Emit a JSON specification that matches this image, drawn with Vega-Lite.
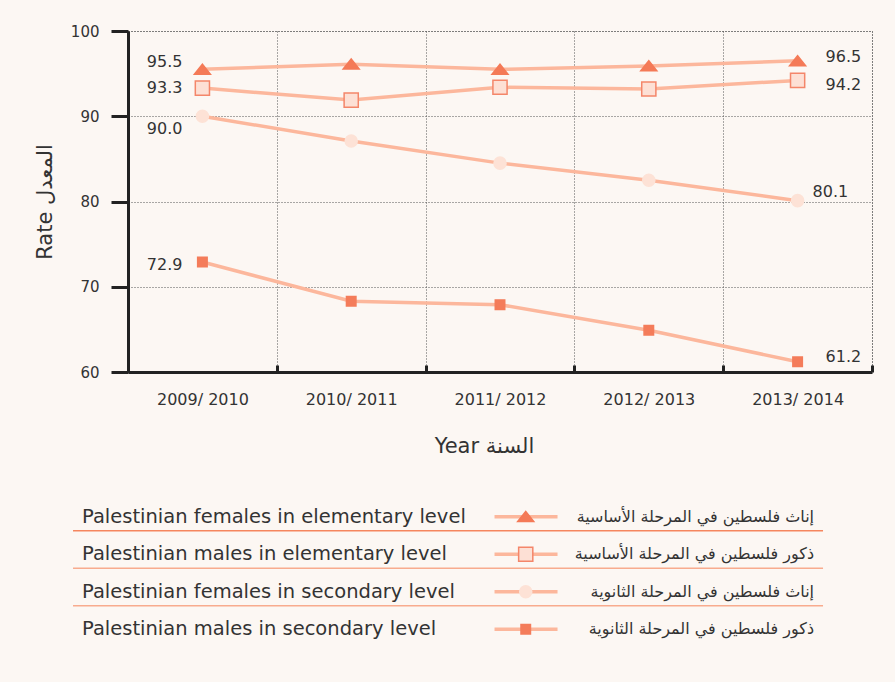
{
  "$schema": "https://vega.github.io/schema/vega-lite/v6.json",
  "background": "#fcf7f3",
  "padding": {"left": 33, "top": 23, "right": 21, "bottom": 44},
  "spacing": 41,
  "config": {
    "font": "DejaVu Sans",
    "view": {"stroke": "#555", "strokeDash": [1, 2], "strokeWidth": 1}
  },
  "datasets": {
    "rates": [
      {"year": "2009/ 2010", "series": "Palestinian females in elementary level", "value": 95.5},
      {"year": "2010/ 2011", "series": "Palestinian females in elementary level", "value": 96.1},
      {"year": "2011/ 2012", "series": "Palestinian females in elementary level", "value": 95.5},
      {"year": "2012/ 2013", "series": "Palestinian females in elementary level", "value": 95.9},
      {"year": "2013/ 2014", "series": "Palestinian females in elementary level", "value": 96.5},
      {"year": "2009/ 2010", "series": "Palestinian males in elementary level", "value": 93.3},
      {"year": "2010/ 2011", "series": "Palestinian males in elementary level", "value": 91.9},
      {"year": "2011/ 2012", "series": "Palestinian males in elementary level", "value": 93.4},
      {"year": "2012/ 2013", "series": "Palestinian males in elementary level", "value": 93.2},
      {"year": "2013/ 2014", "series": "Palestinian males in elementary level", "value": 94.2},
      {"year": "2009/ 2010", "series": "Palestinian females in secondary level", "value": 90.0},
      {"year": "2010/ 2011", "series": "Palestinian females in secondary level", "value": 87.1},
      {"year": "2011/ 2012", "series": "Palestinian females in secondary level", "value": 84.5},
      {"year": "2012/ 2013", "series": "Palestinian females in secondary level", "value": 82.5},
      {"year": "2013/ 2014", "series": "Palestinian females in secondary level", "value": 80.1},
      {"year": "2009/ 2010", "series": "Palestinian males in secondary level", "value": 72.9},
      {"year": "2010/ 2011", "series": "Palestinian males in secondary level", "value": 68.3},
      {"year": "2011/ 2012", "series": "Palestinian males in secondary level", "value": 67.9},
      {"year": "2012/ 2013", "series": "Palestinian males in secondary level", "value": 64.9},
      {"year": "2013/ 2014", "series": "Palestinian males in secondary level", "value": 61.2}
    ],
    "legendRows": [
      {"series": "Palestinian females in elementary level", "arabic": "إناث فلسطين في المرحلة الأساسية"},
      {"series": "Palestinian males in elementary level", "arabic": "ذكور فلسطين في المرحلة الأساسية"},
      {"series": "Palestinian females in secondary level", "arabic": "إناث فلسطين في المرحلة الثانوية"},
      {"series": "Palestinian males in secondary level", "arabic": "ذكور فلسطين في المرحلة الثانوية"}
    ]
  },
  "vconcat": [
    {
      "width": 744,
      "height": 341,
      "data": {"name": "rates"},
      "encoding": {
        "x": {
          "field": "year", "type": "nominal",
          "sort": ["2009/ 2010", "2010/ 2011", "2011/ 2012", "2012/ 2013", "2013/ 2014"],
          "scale": {"type": "band", "paddingInner": 0, "paddingOuter": 0},
          "axis": {
            "title": "Year السنة", "titleFontSize": 21, "titleFontWeight": "normal", "titleColor": "#333", "titlePadding": 28,
            "titleX": 356, "titleAlign": "center",
            "labelAngle": 0, "labelFontSize": 16, "labelColor": "#333", "labelPadding": 26,
            "tickBand": "extent", "tickSize": -7, "tickWidth": 3, "tickColor": "#222",
            "domainWidth": 3, "domainColor": "#222",
            "grid": true, "gridColor": "#555", "gridDash": [1, 2], "gridWidth": 1
          }
        },
        "y": {
          "field": "value", "type": "quantitative",
          "scale": {"domain": [60, 100], "nice": false, "zero": false},
          "axis": {
            "title": "Rate المعدل", "titleFontSize": 21, "titleFontWeight": "normal", "titleColor": "#333", "titlePadding": 15,
            "values": [60, 70, 80, 90, 100],
            "labelFontSize": 15, "labelColor": "#333", "labelPadding": 12,
            "tickSize": 17, "tickWidth": 3, "tickColor": "#222",
            "domainWidth": 3, "domainColor": "#222",
            "grid": true, "gridColor": "#555", "gridDash": [1, 2], "gridWidth": 1
          }
        }
      },
      "layer": [
        {
          "mark": {"type": "line", "color": "#fcb79c", "strokeWidth": 3.5},
          "encoding": {"detail": {"field": "series"}}
        },
        {
          "mark": {"type": "point", "filled": true, "opacity": 1, "strokeWidth": 1.5},
          "encoding": {
            "shape": {"field": "series", "legend": null, "scale": {
              "domain": ["Palestinian females in elementary level", "Palestinian males in elementary level", "Palestinian females in secondary level", "Palestinian males in secondary level"],
              "range": ["M-1,0.6L0,-0.65L1,0.6Z", "square", "circle", "square"]}},
            "fill": {"field": "series", "legend": null, "scale": {
              "domain": ["Palestinian females in elementary level", "Palestinian males in elementary level", "Palestinian females in secondary level", "Palestinian males in secondary level"],
              "range": ["#f47a57", "#fde0d5", "#fde2d6", "#f47c5a"]}},
            "stroke": {"field": "series", "legend": null, "scale": {
              "domain": ["Palestinian females in elementary level", "Palestinian males in elementary level", "Palestinian females in secondary level", "Palestinian males in secondary level"],
              "range": ["#f47a57", "#f4866a", "#fde2d6", "#f47c5a"]}},
            "size": {"field": "series", "legend": null, "scale": {
              "domain": ["Palestinian females in elementary level", "Palestinian males in elementary level", "Palestinian females in secondary level", "Palestinian males in secondary level"],
              "range": [256, 90, 120, 120]}}
          }
        },
        {
          "transform": [{"filter": "datum.series == 'Palestinian females in elementary level' && datum.year == '2009/ 2010'"}],
          "mark": {"type": "text", "align": "right", "baseline": "middle", "dx": -20, "dy": -7, "fontSize": 16, "color": "#333"},
          "encoding": {"text": {"field": "value", "format": ".1f"}}
        },
        {
          "transform": [{"filter": "datum.series == 'Palestinian males in elementary level' && datum.year == '2009/ 2010'"}],
          "mark": {"type": "text", "align": "right", "baseline": "middle", "dx": -20, "dy": 0, "fontSize": 16, "color": "#333"},
          "encoding": {"text": {"field": "value", "format": ".1f"}}
        },
        {
          "transform": [{"filter": "datum.series == 'Palestinian females in secondary level' && datum.year == '2009/ 2010'"}],
          "mark": {"type": "text", "align": "right", "baseline": "middle", "dx": -20, "dy": 13, "fontSize": 16, "color": "#333"},
          "encoding": {"text": {"field": "value", "format": ".1f"}}
        },
        {
          "transform": [{"filter": "datum.series == 'Palestinian males in secondary level' && datum.year == '2009/ 2010'"}],
          "mark": {"type": "text", "align": "right", "baseline": "middle", "dx": -20, "dy": 3, "fontSize": 16, "color": "#333"},
          "encoding": {"text": {"field": "value", "format": ".1f"}}
        },
        {
          "transform": [{"filter": "datum.series == 'Palestinian females in elementary level' && datum.year == '2013/ 2014'"}],
          "mark": {"type": "text", "align": "left", "baseline": "middle", "dx": 28, "dy": -4, "fontSize": 16, "color": "#333"},
          "encoding": {"text": {"field": "value", "format": ".1f"}}
        },
        {
          "transform": [{"filter": "datum.series == 'Palestinian males in elementary level' && datum.year == '2013/ 2014'"}],
          "mark": {"type": "text", "align": "left", "baseline": "middle", "dx": 28, "dy": 5, "fontSize": 16, "color": "#333"},
          "encoding": {"text": {"field": "value", "format": ".1f"}}
        },
        {
          "transform": [{"filter": "datum.series == 'Palestinian females in secondary level' && datum.year == '2013/ 2014'"}],
          "mark": {"type": "text", "align": "left", "baseline": "middle", "dx": 15, "dy": -9, "fontSize": 16, "color": "#333"},
          "encoding": {"text": {"field": "value", "format": ".1f"}}
        },
        {
          "transform": [{"filter": "datum.series == 'Palestinian males in secondary level' && datum.year == '2013/ 2014'"}],
          "mark": {"type": "text", "align": "left", "baseline": "middle", "dx": 28, "dy": -5, "fontSize": 16, "color": "#333"},
          "encoding": {"text": {"field": "value", "format": ".1f"}}
        }
      ]
    },
    {
      "width": 744,
      "height": 150,
      "view": {"stroke": null},
      "data": {"name": "legendRows"},
      "encoding": {
        "y": {
          "field": "series", "type": "nominal", "axis": null, "sort": null,
          "scale": {"type": "band", "paddingInner": 0, "paddingOuter": 0}
        }
      },
      "layer": [
        {
          "transform": [{"filter": "datum.series == 'Palestinian females in elementary level'"}],
          "mark": {"type": "rule", "color": "#f5865f", "strokeWidth": 1.5},
          "encoding": {
            "y": {"field": "series", "type": "nominal", "bandPosition": 0.87},
            "x": {"datum": 0, "type": "quantitative", "scale": {"domain": [7.33, 106.53], "nice": false, "zero": false}, "axis": null},
            "x2": {"datum": 100}
          }
        },
        {
          "transform": [{"filter": "datum.series == 'Palestinian males in elementary level' || datum.series == 'Palestinian females in secondary level'"}],
          "mark": {"type": "rule", "color": "#f8ab8e", "strokeWidth": 1.5},
          "encoding": {
            "y": {"field": "series", "type": "nominal", "bandPosition": 0.87},
            "x": {"datum": 0, "type": "quantitative"},
            "x2": {"datum": 100}
          }
        },
        {
          "mark": {"type": "rule", "color": "#fcb79c", "strokeWidth": 3.5},
          "encoding": {
            "x": {"datum": 56.2, "type": "quantitative"},
            "x2": {"datum": 64.6}
          }
        },
        {
          "mark": {"type": "point", "filled": true, "opacity": 1, "strokeWidth": 1.5},
          "encoding": {
            "x": {"datum": 60.36, "type": "quantitative"},
            "shape": {"field": "series", "legend": null, "scale": {
              "domain": ["Palestinian females in elementary level", "Palestinian males in elementary level", "Palestinian females in secondary level", "Palestinian males in secondary level"],
              "range": ["M-1,0.6L0,-0.65L1,0.6Z", "square", "circle", "square"]}},
            "fill": {"field": "series", "legend": null, "scale": {
              "domain": ["Palestinian females in elementary level", "Palestinian males in elementary level", "Palestinian females in secondary level", "Palestinian males in secondary level"],
              "range": ["#f47a57", "#fde0d5", "#fde2d6", "#f47c5a"]}},
            "stroke": {"field": "series", "legend": null, "scale": {
              "domain": ["Palestinian females in elementary level", "Palestinian males in elementary level", "Palestinian females in secondary level", "Palestinian males in secondary level"],
              "range": ["#f47a57", "#f4866a", "#fde2d6", "#f47c5a"]}},
            "size": {"field": "series", "legend": null, "scale": {
              "domain": ["Palestinian females in elementary level", "Palestinian males in elementary level", "Palestinian females in secondary level", "Palestinian males in secondary level"],
              "range": [256, 90, 120, 120]}}
          }
        },
        {
          "mark": {"type": "text", "align": "left", "baseline": "middle", "fontSize": 19.5, "color": "#333"},
          "encoding": {
            "x": {"datum": 1.2, "type": "quantitative"},
            "text": {"field": "series"}
          }
        },
        {
          "mark": {"type": "text", "align": "right", "baseline": "middle", "fontSize": 16, "color": "#333", "font": "DejaVu Sans"},
          "encoding": {
            "x": {"datum": 98.8, "type": "quantitative"},
            "text": {"field": "arabic"}
          }
        }
      ]
    }
  ]
}
